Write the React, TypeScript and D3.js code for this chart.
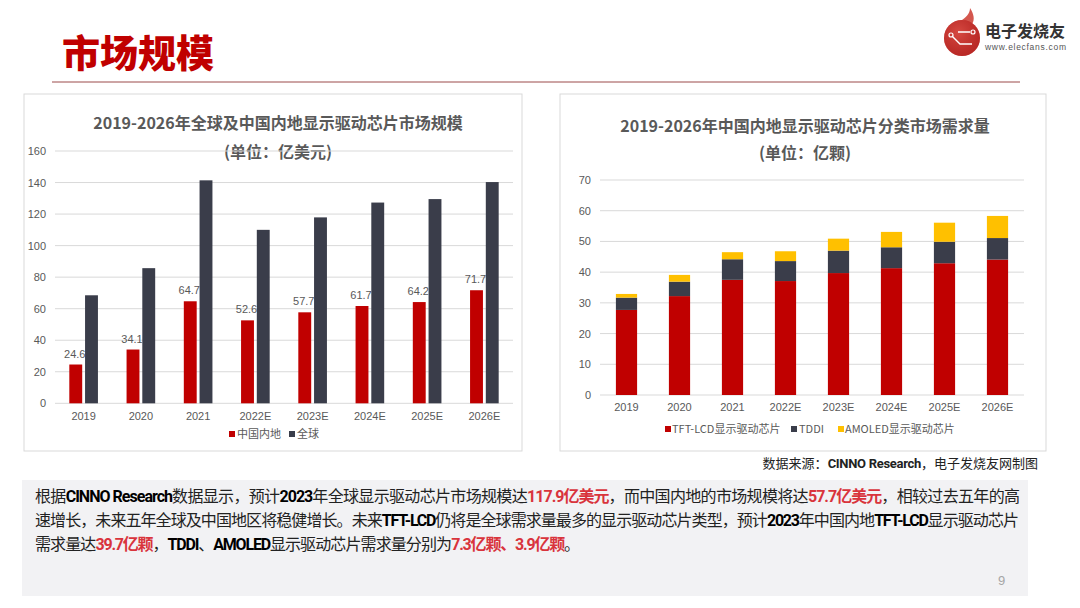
import React from "react";
import * as d3 from "d3";

const years = ["2019", "2020", "2021", "2022E", "2023E", "2024E", "2025E", "2026E"];
const chinaMarket = [24.6, 34.1, 64.7, 52.6, 57.7, 61.7, 64.2, 71.7];
const globalMarket = [68.5, 85.7, 141.4, 110, 117.9, 127.3, 129.5, 140.3];
const leftTicks = [0, 20, 40, 60, 80, 100, 120, 140, 160];

const tftLcd = [27.7, 32.2, 37.5, 37.1, 39.7, 41.3, 42.9, 44.1];
const tddi = [4.0, 4.7, 6.7, 6.5, 7.3, 6.8, 7.0, 7.0];
const amoled = [1.2, 2.2, 2.3, 3.2, 3.9, 5.0, 6.2, 7.2];
const rightTicks = [0, 10, 20, 30, 40, 50, 60, 70];

const RED = "#c00000";
const DARK = "#3a3d4a";
const YELLOW = "#ffc000";
const GRID = "#d9d9d9";
const LABEL = "#595959";
const FONT = "'Liberation Sans', Arial, 'Noto Sans CJK SC', sans-serif";
const CJK = "'Noto Sans CJK SC', 'Liberation Sans', sans-serif";
const HI = "#d9343c";

function LeftChart() {
  const x = d3.scaleBand<string>().domain(years).range([55, 513]);
  const y = d3.scaleLinear().domain([0, 160]).range([403.3, 151]);
  const bw = x.bandwidth();
  const barW = bw * 0.225;
  const gap = bw * 0.05;
  return (
    <g>
      <rect x={24} y={94} width={498} height={357} fill="#fff" stroke="#d9d9d9" strokeWidth={1} />
      <text x={278} y={129} textAnchor="middle" fontFamily={CJK} fontWeight={700} fontSize={16} fill={LABEL}>
        2019-2026年全球及中国内地显示驱动芯片市场规模
      </text>
      <text x={278} y={158} textAnchor="middle" fontFamily={CJK} fontWeight={700} fontSize={16} fill={LABEL}>
        (单位：亿美元)
      </text>
      {leftTicks.map((t) => (
        <g key={t}>
          <line x1={55} x2={513} y1={y(t)} y2={y(t)} stroke={GRID} strokeWidth={1} />
          <text x={46} y={y(t) + 4} textAnchor="end" fontFamily={FONT} fontSize={11} fill={LABEL}>
            {t}
          </text>
        </g>
      ))}
      {years.map((yr, i) => {
        const c = (x(yr) as number) + bw / 2;
        const xr = c - barW - gap / 2;
        const xg = c + gap / 2;
        return (
          <g key={yr}>
            <rect x={xr} y={y(chinaMarket[i])} width={barW} height={y(0) - y(chinaMarket[i])} fill={RED} />
            <rect x={xg} y={y(globalMarket[i])} width={barW} height={y(0) - y(globalMarket[i])} fill={DARK} />
            <text x={xr + barW / 2 - 1} y={y(chinaMarket[i]) - 7} textAnchor="middle" fontFamily={FONT} fontSize={11} fill={LABEL}>
              {chinaMarket[i]}
            </text>
            <text x={c} y={420} textAnchor="middle" fontFamily={FONT} fontSize={11} fill={LABEL}>
              {yr}
            </text>
          </g>
        );
      })}
      <rect x={229} y={431} width={6} height={6} fill={RED} />
      <text x={237} y={438} fontFamily={CJK} fontSize={11} fill={LABEL}>中国内地</text>
      <rect x={289} y={431} width={6} height={6} fill={DARK} />
      <text x={297} y={438} fontFamily={CJK} fontSize={11} fill={LABEL}>全球</text>
    </g>
  );
}

function RightChart() {
  const x = d3.scaleBand<string>().domain(years).range([600, 1024]);
  const y = d3.scaleLinear().domain([0, 70]).range([395, 180]);
  const rows = years.map((yr, i) => ({ year: yr, tft: tftLcd[i], tddi: tddi[i], amoled: amoled[i] }));
  const stack = d3.stack<any>().keys(["tft", "tddi", "amoled"]);
  const series = stack(rows);
  const colors: Record<string, string> = { tft: RED, tddi: DARK, amoled: YELLOW };
  const bw = x.bandwidth();
  const barW = bw * 0.4;
  return (
    <g>
      <rect x={560} y={94} width={486} height={357} fill="#fff" stroke="#d9d9d9" strokeWidth={1} />
      <text x={805} y={132} textAnchor="middle" fontFamily={CJK} fontWeight={700} fontSize={16} fill={LABEL}>
        2019-2026年中国内地显示驱动芯片分类市场需求量
      </text>
      <text x={805} y={159} textAnchor="middle" fontFamily={CJK} fontWeight={700} fontSize={16} fill={LABEL}>
        (单位：亿颗)
      </text>
      {rightTicks.map((t) => (
        <g key={t}>
          <line x1={600} x2={1024} y1={y(t)} y2={y(t)} stroke={GRID} strokeWidth={1} />
          <text x={591} y={y(t) + 4} textAnchor="end" fontFamily={FONT} fontSize={11} fill={LABEL}>
            {t}
          </text>
        </g>
      ))}
      {series.map((s) =>
        s.map((d, i) => {
          const c = (x(years[i]) as number) + bw / 2;
          return (
            <rect key={s.key + i} x={c - barW / 2} y={y(d[1])} width={barW} height={y(d[0]) - y(d[1])} fill={colors[s.key]} />
          );
        })
      )}
      {years.map((yr) => (
        <text key={yr} x={(x(yr) as number) + bw / 2} y={411} textAnchor="middle" fontFamily={FONT} fontSize={11} fill={LABEL}>
          {yr}
        </text>
      ))}
      <rect x={665} y={426} width={6} height={6} fill={RED} />
      <text x={672} y={433} fontFamily={CJK} fontSize={11} fill={LABEL}>TFT-LCD显示驱动芯片</text>
      <rect x={791} y={426} width={6} height={6} fill={DARK} />
      <text x={799} y={433} fontFamily={CJK} fontSize={11} fill={LABEL}>TDDI</text>
      <rect x={838} y={426} width={6} height={6} fill={YELLOW} />
      <text x={845} y={433} fontFamily={CJK} fontSize={11} fill={LABEL}>AMOLED显示驱动芯片</text>
    </g>
  );
}

function B({ children, red }: { children: React.ReactNode; red?: boolean }) {
  return (
    <tspan fontWeight={700} fill={red ? HI : "#000"} fontFamily="Roboto, 'Noto Sans CJK SC', sans-serif" letterSpacing={-0.3}>
      {children}
    </tspan>
  );
}

function Paragraph() {
  const common = { fontFamily: CJK, fontSize: 16, fill: "#222", lengthAdjust: "spacing" as const };
  return (
    <g>
      <rect x={22} y={480} width={1006} height={116} fill="#f2f2f4" />
      <text x={35} y={502} textLength={985} {...common}>
        根据<B>CINNO Research</B>数据显示，预计<B>2023</B>年全球显示驱动芯片市场规模达<B red>117.9亿美元</B>，而中国内地的市场规模将达<B red>57.7亿美元</B>，相较过去五年的高
      </text>
      <text x={35} y={526} textLength={984} {...common}>
        速增长，未来五年全球及中国地区将稳健增长。未来<B>TFT-LCD</B>仍将是全球需求量最多的显示驱动芯片类型，预计<B>2023</B>年中国内地<B>TFT-LCD</B>显示驱动芯片
      </text>
      <text x={35} y={550} textLength={545} {...common}>
        需求量达<B red>39.7亿颗</B>，<B>TDDI</B>、<B>AMOLED</B>显示驱动芯片需求量分别为<B red>7.3亿颗、3.9亿颗</B>。
      </text>
      <text x={998} y={585} fontFamily={FONT} fontSize={13} fill="#a6a6a6">9</text>
    </g>
  );
}

function Logo() {
  return (
    <g>
      <path d="M962,20 C968,16 970,12 970,8 C974,14 975,20 972,24 Z" fill="#d4574e" />
      <circle cx={962} cy={38} r={18} fill="#c8302c" />
      <circle cx={962} cy={38} r={18} fill="url(#lg)" />
      <path d="M952,36 L960,44 L972,44 M970,32 L958,32" stroke="#fff" strokeWidth={1.4} fill="none" />
      <circle cx={951} cy={35} r={2} fill="none" stroke="#fff" strokeWidth={1.2} />
      <circle cx={973} cy={32} r={2} fill="none" stroke="#fff" strokeWidth={1.2} />
      <text x={985} y={37} fontFamily={CJK} fontWeight={700} fontSize={16} fill="#333">电子发烧友</text>
      <text x={985} y={50} fontFamily={FONT} fontSize={8.5} fill="#555" textLength={81} lengthAdjust="spacing">www.elecfans.com</text>
    </g>
  );
}

export default function App() {
  return (
    <svg width={1080} height={608} style={{ display: "block", position: "absolute", left: 0, top: 0 }}>
      <defs>
        <radialGradient id="lg" cx="0.4" cy="0.35" r="0.7">
          <stop offset="0" stopColor="#e05a50" stopOpacity={0.6} />
          <stop offset="1" stopColor="#a01a18" stopOpacity={0.4} />
        </radialGradient>
      </defs>
      <rect width={1080} height={608} fill="#fff" />
      <text x={62} y={67} fontFamily={CJK} fontWeight={900} fontSize={38} fill={RED}>市场规模</text>
      <line x1={52} x2={1020} y1={82} y2={82} stroke="#9b4b4b" strokeWidth={1} />
      <Logo />
      <LeftChart />
      <RightChart />
      <text x={1038} y={468} textAnchor="end" fontFamily={CJK} fontSize={13} fill="#222">
        数据来源：<tspan fontFamily="Roboto, sans-serif" fontWeight={700} letterSpacing={-0.3}>CINNO Research</tspan>，电子发烧友网制图
      </text>
      <Paragraph />
    </svg>
  );
}
